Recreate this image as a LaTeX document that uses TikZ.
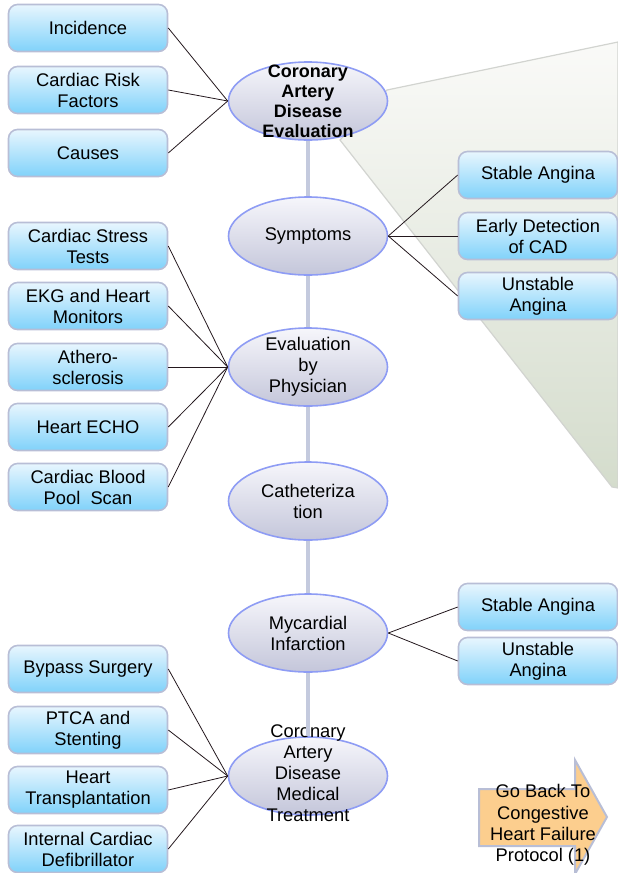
\documentclass[tikz,border=0pt]{standalone}
\usepackage{fontspec}
\setmainfont{Liberation Sans}
\usetikzlibrary{shapes}
\definecolor{my_black}{RGB}{36, 24, 30}
\definecolor{my_frame}{RGB}{184, 190, 214}
\definecolor{my_sky_top}{RGB}{232, 246, 254}
\definecolor{my_sky_bot}{RGB}{128, 210, 250}
\definecolor{my_rim}{RGB}{142, 156, 244}
\definecolor{my_lilac_top}{RGB}{246, 246, 251}
\definecolor{my_lilac_bot}{RGB}{196, 198, 218}
\definecolor{my_spine}{RGB}{196, 202, 222}
\definecolor{my_wedge_top}{RGB}{250, 250, 248}
\definecolor{my_wedge_bot}{RGB}{212, 220, 204}
\definecolor{my_wedge_edge}{RGB}{210, 212, 208}
\definecolor{my_orange}{RGB}{252, 206, 142}
\tikzset{
  topic/.style = {draw=my_frame, line width=1.6pt, rounded corners=9pt, top color=my_sky_top,
  bottom color=my_sky_bot, minimum width=159pt, minimum height=47pt, inner sep=0pt,
  align=center, font=\fontsize{18.3}{21}\selectfont},
  stage/.style = {ellipse, draw=my_rim, line width=1.6pt, top color=my_lilac_top,
  bottom color=my_lilac_bot, minimum width=159pt, minimum height=78pt, inner sep=0pt},
  stage_txt/.style = {align=center, inner sep=0pt, font=\fontsize{18.3}{21}\selectfont},
  stage_bold/.style = {align=center, inner sep=0pt, font=\fontsize{18}{20}\selectfont\bfseries},
  spine/.style = {draw=my_spine, line width=4.5pt},
  link/.style = {draw=my_black, line width=0.8pt}
}

\begin{document}
\begin{tikzpicture}[x=1pt, y=-1pt,
        wedge/.style={top color=my_wedge_top, bottom color=my_wedge_bot, draw=my_wedge_edge, line width=1.2pt},
        back_arrow/.style={fill=my_orange, draw=my_frame, line width=2pt},
        arrow_txt/.style={align=center, inner sep=0pt, font=\fontsize{18.3}{21.3}\selectfont}]
    \useasboundingbox (0,0) rectangle (618,873);
    \shadedraw[wedge] (387,90) -- (618,42) -- (618,488) -- (612,487) -- (340,140) -- cycle;

    \node [stage, label={[stage_bold]center:Coronary\\Artery\\Disease\\Evaluation}] (cad) at (308,101) {};
    \node [stage, label={[stage_txt]center:Symptoms}] (symp) at (308,236) {};
    \node [stage, label={[stage_txt]center:Evaluation\\by\\Physician}] (eval) at (308,367) {};
    \node [stage, label={[stage_txt]center:Catheteriza\\tion}] (cath) at (308,501) {};
    \node [stage, label={[stage_txt]center:Mycardial\\Infarction}] (infarct) at (308,633) {};
    \node [stage] (treat) at (308,776) {};
    \node [stage_txt] (treat_txt) at (308,773) {Coronary\\Artery\\Disease\\Medical\\Treatment};

    \draw [spine] (cad.south) -- (symp.north);
    \draw [spine] (symp.south) -- (eval.north);
    \draw [spine] (eval.south) -- (cath.north);
    \draw [spine] (cath.south) -- (infarct.north);
    \draw [spine] (infarct.south) -- (treat.north);

    \node [topic] (incid) at (88,28) {Incidence};
    \node [topic] (riskf) at (88,90) {Cardiac Risk\\Factors};
    \node [topic] (causes) at (88,153) {Causes};

    \node [topic] (stable_a) at (538,175) {Stable Angina};
    \node [topic] (early) at (538,236) {Early Detection\\of CAD};
    \node [topic] (unstable_a) at (538,296) {Unstable\\Angina};

    \node [topic] (stress) at (88,246) {Cardiac Stress\\Tests};
    \node [topic] (ekg) at (88,306) {EKG and Heart\\Monitors};
    \node [topic] (athero) at (88,367) {Athero-\\sclerosis};
    \node [topic] (echo) at (88,427) {Heart ECHO};
    \node [topic] (pool) at (88,487) {Cardiac Blood\\Pool\ \ Scan};

    \node [topic] (stable_b) at (538,607) {Stable Angina};
    \node [topic] (unstable_b) at (538,661) {Unstable\\Angina};

    \node [topic] (bypass) at (88,669) {Bypass Surgery};
    \node [topic] (ptca) at (88,730) {PTCA and\\Stenting};
    \node [topic] (transpl) at (88,790) {Heart\\Transplantation};
    \node [topic] (icd) at (88,849) {Internal Cardiac\\Defibrillator};

    \draw [link] (cad.west) -- (incid.east);
    \draw [link] (cad.west) -- (riskf.east);
    \draw [link] (cad.west) -- (causes.east);
    \draw [link] (symp.east) -- (stable_a.west);
    \draw [link] (symp.east) -- (early.west);
    \draw [link] (symp.east) -- (unstable_a.west);
    \draw [link] (eval.west) -- (stress.east);
    \draw [link] (eval.west) -- (ekg.east);
    \draw [link] (eval.west) -- (athero.east);
    \draw [link] (eval.west) -- (echo.east);
    \draw [link] (eval.west) -- (pool.east);
    \draw [link] (infarct.east) -- (stable_b.west);
    \draw [link] (infarct.east) -- (unstable_b.west);
    \draw [link] (treat.west) -- (bypass.east);
    \draw [link] (treat.west) -- (ptca.east);
    \draw [link] (treat.west) -- (transpl.east);
    \draw [link] (treat.west) -- (icd.east);

    \draw [back_arrow] (479,789) -- (575,789) -- (575,760) -- (607,817) -- (575,874) -- (575,846) -- (479,846) -- cycle;
    \node [arrow_txt] (goback) at (543,825) {Go Back To\\Congestive\\Heart Failure\\Protocol (1)};
\end{tikzpicture}
\end{document}
